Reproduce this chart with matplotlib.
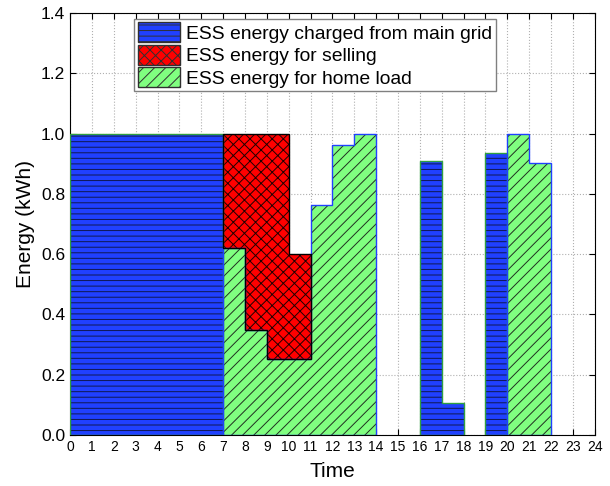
import numpy as np
import matplotlib.pyplot as plt

plt.rcParams['font.family'] = ['Liberation Sans', 'DejaVu Sans']
plt.rcParams['hatch.linewidth'] = 0.7

edges = np.arange(25)

# energy charged from main grid (kWh)
grid_charge = [1.0, 1.0, 1.0, 1.0, 1.0, 1.0, 1.0, 0, 0, 0, 0, 0, 0, 0,
               0, 0, 0.908, 0.106, 0, 0.935, 0, 0, 0, 0]
# energy used for home load (kWh)
home_load = [0, 0, 0, 0, 0, 0, 0, 0.622, 0.349, 0.252, 0.252, 0.764, 0.963, 1.0,
             0, 0, 0, 0, 0, 0, 1.0, 0.903, 0, 0]
# energy sold (kWh), stacked on home load
selling = [0, 0, 0, 0, 0, 0, 0, 0.378, 0.651, 0.748, 0.349, 0, 0, 0,
           0, 0, 0, 0, 0, 0, 0, 0, 0, 0]

labels = ['ESS energy charged from main grid', 'ESS energy for selling',
          'ESS energy for home load']

fig = plt.figure(figsize=(6.1, 4.86), dpi=100)
ax = fig.add_axes([0.115, 0.105, 0.86, 0.868])

blue = '#2040ff'
red = '#ff0000'
green = '#80ff80'


def area(vals, bottom, face, hatch, hatch_col, edge_col):
    vals = np.asarray(vals, float)
    bottom = np.asarray(bottom, float)
    top = np.where(vals > 0, bottom + vals, np.nan)
    # filled + hatched part (hatch colour comes from edgecolor)
    p = ax.stairs(top, edges, baseline=bottom, fill=True, facecolor=face,
                  edgecolor=hatch_col, linewidth=0, hatch=hatch, zorder=2)
    # outline around each contiguous block
    ax.stairs(top, edges, baseline=bottom, fill=False, edgecolor=edge_col,
              linewidth=1.0, zorder=3)
    return p


zeros = np.zeros(24)
p1 = area(grid_charge, zeros, blue, '---', '#101850', '#30a040')
p3 = area(home_load, zeros, green, '///', '#203020', '#2040ff')
p2 = area(selling, home_load, red, 'xxx', '#200000', 'black')

ax.set_xlim(0, 24)
ax.set_ylim(0, 1.4)
ax.set_xticks(np.arange(0, 25, 1))
ax.set_yticks(np.arange(0, 1.41, 0.2))
ax.set_yticklabels([f'{v:.1f}' for v in np.arange(0, 1.41, 0.2)])
ax.tick_params(axis='x', labelsize=10, direction='in', top=True, length=4)
ax.tick_params(axis='y', labelsize=12.5, direction='in', right=True, length=4)
ax.grid(True, linestyle=':', color='#b0b0b0', linewidth=0.8, zorder=0)
ax.set_axisbelow(True)

ax.set_xlabel('Time', fontsize=15, labelpad=6)
ax.set_ylabel('Energy (kWh)', fontsize=15)

leg = ax.legend([p1, p2, p3], labels, loc='upper left',
                bbox_to_anchor=(0.122, 0.987), borderaxespad=0, fontsize=13.9,
                fancybox=False, framealpha=1, edgecolor='#808080',
                handlelength=2.2, handleheight=1.2, handletextpad=0.3,
                borderpad=0.2, labelspacing=0.1)
for h in leg.legend_handles:
    h.set_linewidth(1.0)
    h.set_edgecolor('#303030')

fig.savefig('out.png', dpi=100)
